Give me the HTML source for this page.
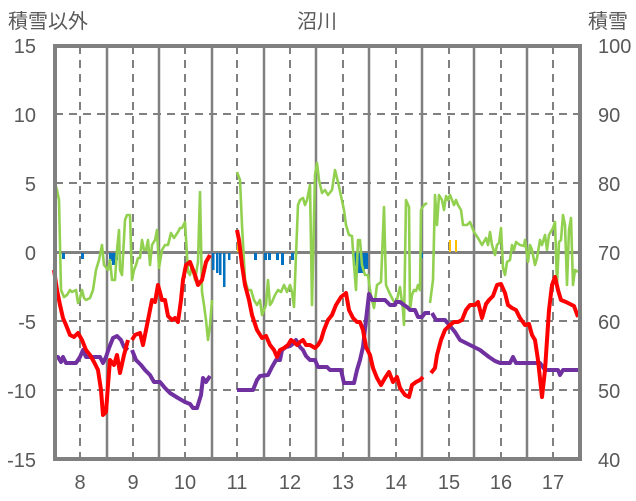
<!DOCTYPE html>
<html><head><meta charset="utf-8"><style>
html,body{margin:0;padding:0;background:#fff}
svg{display:block}
text{font-family:"Liberation Sans","Noto Sans CJK JP",sans-serif;fill:#595959;font-size:20px}
</style></head><body>
<svg width="636" height="501" viewBox="0 0 636 501" xmlns="http://www.w3.org/2000/svg">
<rect width="636" height="501" fill="#fff"/>
<g stroke="#808080" stroke-width="2" stroke-dasharray="8,6" fill="none">
<line x1="55" y1="114" x2="580" y2="114"/><line x1="55" y1="183" x2="580" y2="183"/>
<line x1="55" y1="321" x2="580" y2="321"/><line x1="55" y1="390" x2="580" y2="390"/>
<line x1="80" y1="46" x2="80" y2="459"/><line x1="133" y1="46" x2="133" y2="459"/>
<line x1="185" y1="46" x2="185" y2="459"/><line x1="237" y1="46" x2="237" y2="459"/>
<line x1="290" y1="46" x2="290" y2="459"/><line x1="343" y1="46" x2="343" y2="459"/>
<line x1="396" y1="46" x2="396" y2="459"/><line x1="449" y1="46" x2="449" y2="459"/>
<line x1="501" y1="46" x2="501" y2="459"/><line x1="553" y1="46" x2="553" y2="459"/>
</g>
<g stroke="#808080" stroke-width="2.5">
<line x1="107" y1="46" x2="107" y2="459"/><line x1="159" y1="46" x2="159" y2="459"/>
<line x1="212" y1="46" x2="212" y2="459"/><line x1="264" y1="46" x2="264" y2="459"/>
<line x1="316" y1="46" x2="316" y2="459"/><line x1="369" y1="46" x2="369" y2="459"/>
<line x1="422" y1="46" x2="422" y2="459"/><line x1="474" y1="46" x2="474" y2="459"/>
<line x1="527" y1="46" x2="527" y2="459"/>
<line x1="55" y1="252.5" x2="580" y2="252.5" stroke-width="3"/>
</g>
<g fill="#0070c0">
<rect x="62" y="253" width="3" height="6"/><rect x="81" y="253" width="3" height="6"/>
<rect x="109" y="253" width="3" height="8"/><rect x="112" y="253" width="3" height="12"/><rect x="115" y="253" width="3" height="7"/>
<rect x="212" y="253" width="2.5" height="17"/><rect x="216" y="253" width="2.5" height="20"/><rect x="219" y="253" width="2.5" height="22"/><rect x="223" y="253" width="2.5" height="34"/><rect x="228" y="253" width="2.5" height="7"/>
<rect x="254" y="253" width="3" height="7"/><rect x="264" y="253" width="3" height="7"/><rect x="268" y="253" width="3" height="7"/><rect x="276" y="253" width="3" height="7"/><rect x="281" y="253" width="3" height="12"/><rect x="291" y="253" width="3" height="7"/>
<rect x="354" y="253" width="3" height="13"/><rect x="358" y="253" width="4" height="20"/><rect x="362" y="253" width="3" height="20"/><rect x="365" y="253" width="3" height="16"/><rect x="421" y="253" width="2" height="5"/>
</g>
<g fill="#ffc000">
<rect x="237" y="240" width="2" height="12"/><rect x="449" y="240" width="2" height="12"/><rect x="455" y="240" width="2" height="12"/>
</g>
<g fill="none" stroke="#92d050" stroke-width="2.6" stroke-linejoin="round">
<polyline points="54,180 57,190 59,200 61,290 64,297 67,295 70,290 72,292 76,290 78,303 80,298 82,290 84,298 86,300 90,298 93,290 96,270 99,260 102,245 104,265 108,270 110,260 112,280 115,280 117,250 119,230 120,270 122,275 125,220 127,215 130,215 132,280 134,270 136,265 138,258 140,258 142,240 144,250 146,250 148,240 150,265 152,245 155,240 157,230 159,268 162,250 165,245 168,245 171,233 174,238 178,232 180,228 182,228 185,222 188,272 190,275 192,265 195,280 198,262 200,192 202,292 204,305 206,320 208,340 210,325 212,300"/>
<polyline points="237,172 240,180 242,225 245,280 248,290 251,290 254,300 257,305 260,300 262,315 264,310 266,305 268,280 270,305 272,302 275,295 278,290 281,292 284,285 287,292 290,285 292,292 294,307 296,255 298,205 300,200 303,198 305,205 307,200 310,185 312,305 315,175 317,163 319,180 322,193 325,190 328,195 332,190 335,170 338,182 341,196 344,210 346,225 349,235 352,236 354,265 356,290 358,240 360,240 362,265 365,275 368,275 370,290 372,300 374,308 377,285 381,282 384,207 386,285 389,292 393,300 396,305 398,295 400,287 403,310 404,325 406,200 409,207 410,310 412,295 414,290 416,291 418,285 420,290 421,210 424,205 427,203"/>
<polyline points="430,303 433,280 435,195 437,225 439,195 442,200 444,210 446,196 448,200 450,195 452,200 454,205 456,200 458,205 461,210 463,225 467,225 470,222 474,232 478,238 482,245 486,238 488,245 490,232 492,245 495,255 497,245 499,243 501,228 503,268 505,275 507,262 510,260 512,245 514,250 516,242 520,245 524,246 525,240 528,262 530,245 532,250 535,265 537,258 540,240 542,245 545,235 547,250 549,235 553,228 555,222 557,285 559,242 561,240 563,215 565,225 567,285 569,230 571,218 573,285 575,270 578,272"/>
</g>
<g fill="none" stroke="#7030a0" stroke-width="4" stroke-linejoin="round">
<polyline points="54,357 58,357 61,362 63,357 66,363 76,363 80,357 83,350 86,357 100,357 103,363 106,357 109,348 113,338 117,336 121,340 124,347 128,350"/>
<polyline points="132,350 136,360 141,365 145,370 150,375 154,382 160,382 165,388 170,393 178,398 185,402 190,404 193,408 197,408 201,395 203,378 206,382 210,376"/>
<polyline points="237,390 253,390 257,380 260,376 268,375 272,367 276,360 280,360 282,350 286,347 290,346 294,343 296,340 300,347 303,350 306,356 310,360 315,360 318,367 327,367 330,370 341,370 344,383 354,383 357,370 360,360 363,347 366,320 369,294 372,300 385,300 390,305 395,305 396,302 400,302 404,305 407,307 410,310 415,310 418,317 422,317 425,313 430,313"/>
<polyline points="432,313 436,320 445,320 450,326 455,332 460,340 470,345 480,350 489,357 495,361 500,363 510,363 513,357 516,363 540,363 545,370 558,370 560,375 563,370 578,370"/>
</g>
<g fill="none" stroke="#ff0000" stroke-width="4" stroke-linejoin="round">
<polyline points="54,270 57,290 60,305 63,318 66,325 70,335 74,337 78,333 82,340 86,350 90,355 94,362 98,370 101,390 103,415 106,412 108,385 110,360 114,365 117,355 120,373 124,355 128,340"/>
<polyline points="132,340 135,335 140,333 143,345 146,330 148,320 152,300 155,302 158,285 162,300 165,300 168,316 172,320 175,318 178,322 181,300 183,280 186,265 190,262 195,275 198,285 202,280 206,262 210,255"/>
<polyline points="237,230 239,240 242,265 245,285 249,300 252,315 257,330 262,338 266,336 270,345 274,350 277,357 280,350 284,348 288,345 291,340 294,342 297,345 300,342 303,340 306,345 310,345 315,348 318,345 321,340 324,330 328,320 332,315 336,305 341,297 346,293 349,310 353,318 357,322 360,322 363,330 366,347 370,355 373,368 377,378 381,385 385,378 389,372 393,382 397,377 400,388 405,395 409,397 412,385 416,382 420,380 423,377"/>
<polyline points="431,373 435,368 437,355 441,340 445,330 450,325 454,322 458,322 462,320 466,310 470,305 475,305 478,302 482,318 486,304 489,300 493,296 497,285 501,284 505,293 508,305 512,308 516,310 520,318 525,325 529,324 532,335 535,340 538,360 542,397 545,370 549,310 552,285 555,277 558,290 561,300 566,302 570,304 574,306 578,317"/>
</g>
<rect x="55" y="46" width="525" height="413" fill="none" stroke="#808080" stroke-width="4"/>
<text x="8" y="28" style="font-size:20px">積雪以外</text>
<text x="297" y="28" style="font-size:20px">沼川</text>
<text x="588" y="28" style="font-size:20px">積雪</text>
<g text-anchor="end">
<text x="36" y="53">15</text><text x="36" y="122">10</text><text x="36" y="191">5</text><text x="36" y="260">0</text>
<text x="36" y="329">-5</text><text x="36" y="398">-10</text><text x="36" y="467">-15</text>
</g>
<g text-anchor="start">
<text x="598" y="53">100</text><text x="598" y="122">90</text><text x="598" y="191">80</text><text x="598" y="260">70</text>
<text x="598" y="329">60</text><text x="598" y="398">50</text><text x="598" y="467">40</text>
</g>
<g text-anchor="middle">
<text x="80" y="489">8</text><text x="133" y="489">9</text><text x="185" y="489">10</text><text x="237" y="489">11</text>
<text x="290" y="489">12</text><text x="343" y="489">13</text><text x="396" y="489">14</text><text x="449" y="489">15</text>
<text x="501" y="489">16</text><text x="553" y="489">17</text>
</g>
</svg>
</body></html>
